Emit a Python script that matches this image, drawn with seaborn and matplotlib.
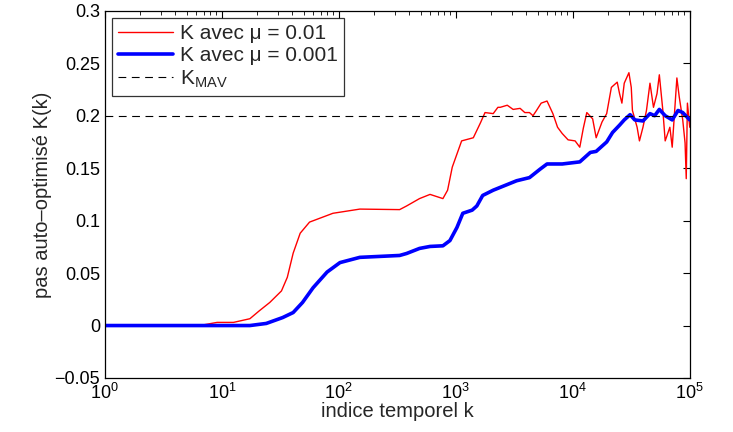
import matplotlib
matplotlib.use("Agg")
import matplotlib.pyplot as plt
import matplotlib.ticker as mticker
import seaborn as sb
import numpy as np
import pandas as pd

# values (x given as log10 of the time index)
log_k_red = [0.0, 0.5, 0.81, 0.96, 1.1, 1.24, 1.32, 1.41, 1.51, 1.56, 1.61, 1.67, 1.75,
             1.95, 2.18, 2.52, 2.58, 2.69, 2.78, 2.89, 2.93, 2.97, 3.05, 3.15, 3.21,
             3.25, 3.32, 3.36, 3.38, 3.44, 3.49, 3.55, 3.59, 3.63, 3.66, 3.69, 3.73,
             3.78, 3.83, 3.87, 3.91, 3.96, 4.02, 4.06, 4.09, 4.12, 4.17, 4.20, 4.25,
             4.29, 4.33, 4.38, 4.40, 4.42, 4.44, 4.48, 4.50, 4.51, 4.55, 4.57, 4.60,
             4.63, 4.66, 4.69, 4.72, 4.74, 4.77, 4.79, 4.83, 4.85, 4.89, 4.91, 4.94,
             4.96, 4.97, 4.98, 5.0]
k_red = [0.0, 0.0, 0.0, 0.003, 0.003, 0.0065, 0.014, 0.022, 0.033, 0.046, 0.069, 0.088, 0.0986,
         0.107, 0.111, 0.1105, 0.114, 0.121, 0.125, 0.121, 0.129, 0.151, 0.176, 0.179, 0.193,
         0.203, 0.202, 0.208, 0.208, 0.210, 0.206, 0.207, 0.203, 0.203, 0.200, 0.205, 0.212,
         0.214, 0.202, 0.189, 0.183, 0.177, 0.176, 0.170, 0.188, 0.203, 0.197, 0.179, 0.194,
         0.202, 0.227, 0.232, 0.221, 0.212, 0.231, 0.241, 0.227, 0.205, 0.189, 0.176, 0.189,
         0.205, 0.231, 0.208, 0.221, 0.239, 0.205, 0.176, 0.189, 0.170, 0.236, 0.218, 0.196,
         0.174, 0.140, 0.212, 0.189]

log_k_blue = [0.0, 0.8, 1.24, 1.38, 1.52, 1.61, 1.69, 1.78, 1.9, 2.01, 2.18, 2.52, 2.58,
              2.69, 2.78, 2.89, 2.95, 3.01, 3.06, 3.14, 3.18, 3.23, 3.32, 3.40, 3.52,
              3.63, 3.72, 3.78, 3.91, 4.06, 4.15, 4.2, 4.23, 4.29, 4.34, 4.40, 4.44,
              4.49, 4.53, 4.60, 4.66, 4.70, 4.74, 4.79, 4.85, 4.90, 4.94, 5.0]
k_blue = [0.0, 0.0, 0.0, 0.002, 0.0076, 0.0124, 0.022, 0.036, 0.051, 0.060, 0.065, 0.0668, 0.0687,
          0.0735, 0.0754, 0.076, 0.081, 0.0935, 0.107, 0.110, 0.114, 0.124, 0.129, 0.1326, 0.138,
          0.141, 0.149, 0.154, 0.154, 0.156, 0.165, 0.166, 0.169, 0.175, 0.184, 0.191, 0.196,
          0.201, 0.196, 0.195, 0.202, 0.200, 0.206, 0.200, 0.196, 0.205, 0.203, 0.196]

k_mav = 0.2
labels = ["K avec \u03bc = 0.01", "K avec \u03bc = 0.001", "K$_{MAV}$"]

sb.set_style("white")
plt.rcParams['font.family'] = ['Liberation Sans', 'DejaVu Sans']
plt.rcParams['mathtext.fontset'] = 'custom'
plt.rcParams['mathtext.rm'] = 'Liberation Sans'
plt.rcParams['mathtext.it'] = 'Liberation Sans'

df_red = pd.DataFrame({"k": 10 ** np.array(log_k_red), "K": k_red})
df_blue = pd.DataFrame({"k": 10 ** np.array(log_k_blue), "K": k_blue})

figure = plt.figure(figsize=(7.33, 4.32), dpi=100)
axis = figure.add_axes([0.143, 0.125, 0.798, 0.85])

sb.lineplot(data=df_red, x="k", y="K", color="#ff0000", linewidth=1.0, label=labels[0], ax=axis)
sb.lineplot(data=df_blue, x="k", y="K", color="#0000ff", linewidth=2.6, label=labels[1], ax=axis)
axis.axhline(k_mav, color="black", linewidth=0.8, dashes=(7, 5), label=labels[2])

axis.set_xscale("log")
axis.set_xlim(1, 1e5)
axis.set_ylim(-0.05, 0.3)
axis.set_yticks(np.arange(-0.05, 0.301, 0.05))
axis.yaxis.set_major_formatter(mticker.FuncFormatter(lambda v, p: ("%g" % round(v, 2)).replace("-", "\u2212")))
axis.xaxis.set_minor_locator(mticker.LogLocator(base=10, subs=np.arange(2, 10), numticks=20))
axis.xaxis.set_minor_formatter(mticker.NullFormatter())

axis.tick_params(which="both", direction="in", top=True, right=True, labelsize=13, colors="black")
axis.tick_params(which="major", length=5, width=0.8)
axis.tick_params(which="minor", length=3, width=0.6)
for spine in axis.spines.values():
    spine.set_color("black")
    spine.set_linewidth(0.9)

axis.set_xlabel("indice temporel k", fontsize=14.5, labelpad=-1)
axis.set_ylabel("pas auto\u2013optimis\u00e9 K(k)", fontsize=14.5, labelpad=2)

leg = axis.legend(loc="upper left", fontsize=15, frameon=True, fancybox=False, edgecolor="black",
                  borderaxespad=0.35, handlelength=2.6, labelspacing=0.15, borderpad=0.3,
                  handletextpad=0.35)
leg.get_frame().set_linewidth(0.9)

plt.savefig("out.png", dpi=100)
